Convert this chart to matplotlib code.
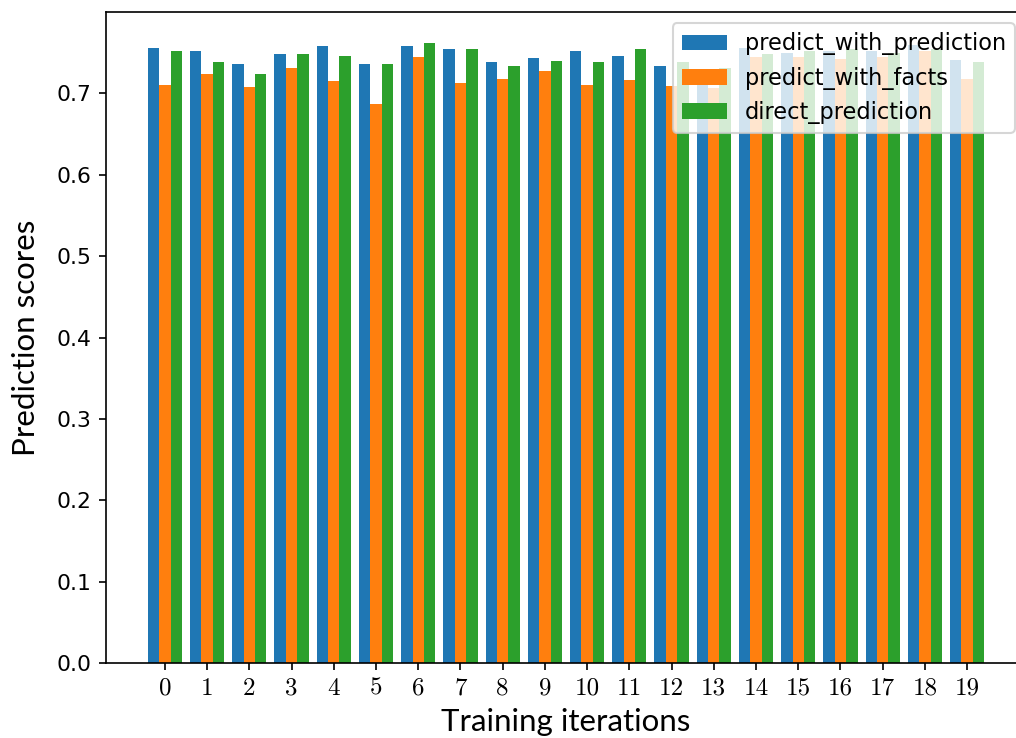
import matplotlib
matplotlib.use("Agg")
import matplotlib.pyplot as plt
import numpy as np

iterations = list(range(20))
tick_labels = [str(i) for i in iterations]

# (bars behind the legend are estimates)
predict_with_prediction = [0.756, 0.752, 0.736, 0.748, 0.758, 0.736, 0.758, 0.754, 0.738, 0.744,
                           0.752, 0.746, 0.734, 0.711, 0.756, 0.750, 0.752, 0.752, 0.760, 0.741]
predict_with_facts = [0.710, 0.724, 0.708, 0.731, 0.715, 0.687, 0.745, 0.713, 0.718, 0.727,
                      0.710, 0.716, 0.709, 0.707, 0.745, 0.745, 0.742, 0.745, 0.752, 0.718]
direct_prediction = [0.752, 0.738, 0.724, 0.748, 0.746, 0.736, 0.762, 0.754, 0.734, 0.740,
                     0.738, 0.754, 0.738, 0.731, 0.748, 0.752, 0.754, 0.750, 0.754, 0.738]

width = 0.27
x = np.arange(len(iterations))

fig = plt.figure(figsize=(1016 / 150, 738 / 150), dpi=150)
# original figure was cropped on the right, so the axes run past the edge
ax = fig.add_axes([106 / 1016, 75 / 738, 920 / 1016, 651 / 738])

ax.bar(x - width, predict_with_prediction, width, color="#1f77b4", label="predict_with_prediction")
ax.bar(x, predict_with_facts, width, color="#ff7f0e", label="predict_with_facts")
ax.bar(x + width, direct_prediction, width, color="#2ca02c", label="direct_prediction")

ax.set_xticks(x)
ax.set_xticklabels(tick_labels, fontfamily="cmr10", fontsize=12)
ax.tick_params(axis="y", labelsize=10.5)
ax.set_ylim(0, 0.8)
ax.set_yticks(np.arange(0, 0.75, 0.1))
ax.set_xlim(-1.395, 20.395)

ax.set_xlabel("Training iterations", fontfamily="Lato", fontsize=15, labelpad=4)
ax.set_ylabel("Prediction scores", fontfamily="Lato", fontsize=15, labelpad=8)

ax.legend(loc="upper right", fontsize=10.8)

fig.savefig("out.png", dpi=150)
